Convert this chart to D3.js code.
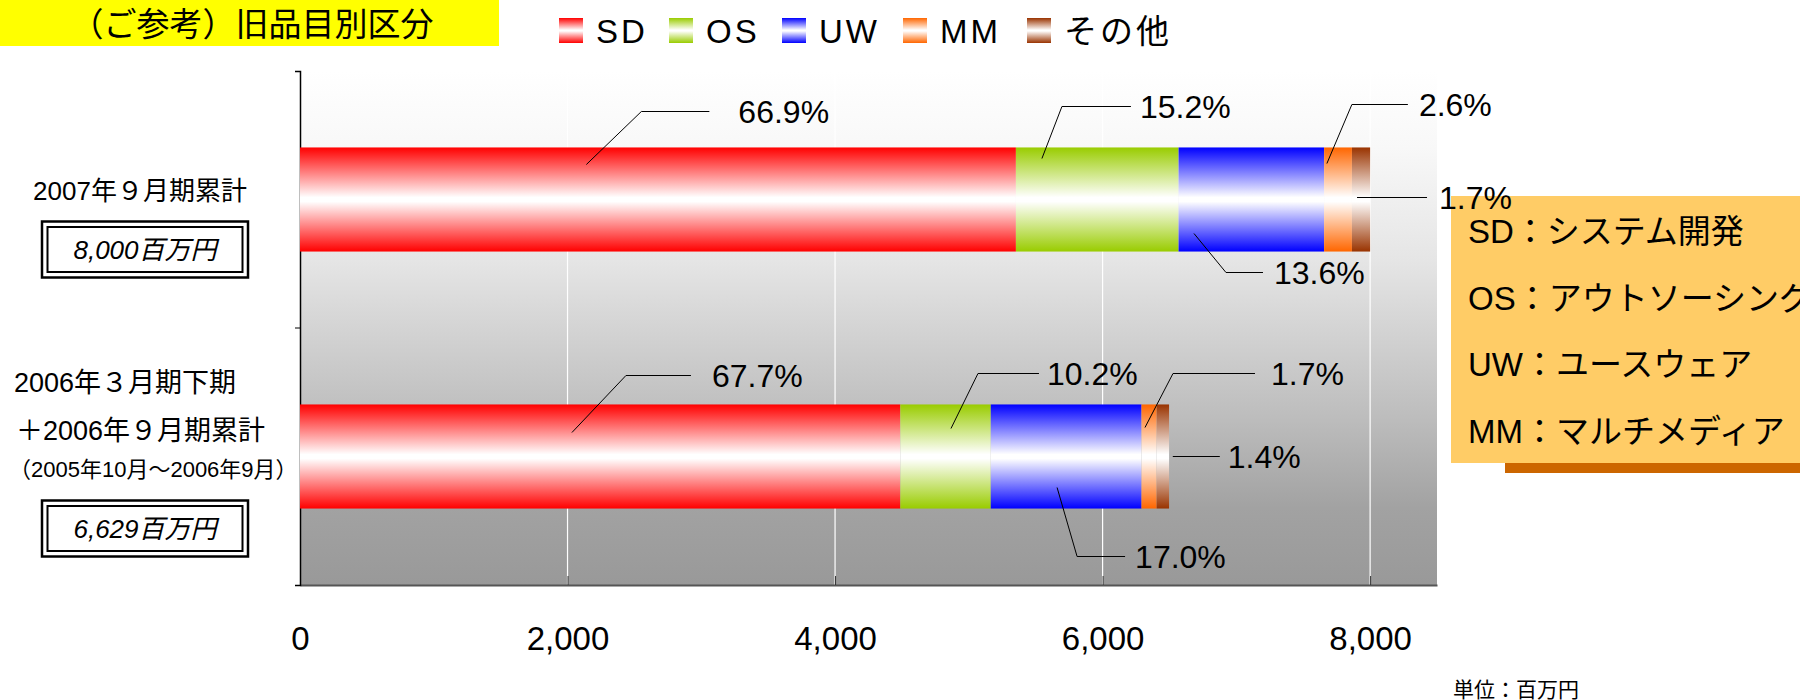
<!DOCTYPE html>
<html><head><meta charset="utf-8">
<script src="https://cdn.jsdelivr.net/npm/d3@7"></script>
<style>body{margin:0;background:#fff;} svg{display:block;}</style>
</head><body><svg id="c" width="1800" height="700"></svg>
<script>
// ---------- data ----------
const periods = ["2007年9月期累計", "2006年3月期下期＋2006年9月期累計"];
const seriesNames = ["SD", "OS", "UW", "MM", "その他"];
const sdValues = [5352, 4488];
const osValues = [1216, 676];
const uwValues = [1088, 1127];
const mmValues = [208, 113];
const otherValues = [136, 93];
const sdPct = ["66.9%", "67.7%"];
const osPct = ["15.2%", "10.2%"];
const uwPct = ["13.6%", "17.0%"];
const mmPct = ["2.6%", "1.7%"];
const otherPct = ["1.7%", "1.4%"];
const totalLabels = ["8,000百万円", "6,629百万円"];
const categoryLines = [
  ["2007年９月期累計"],
  ["2006年３月期下期", "＋2006年９月期累計", "（2005年10月～2006年9月）"]
];
const xTicks = [0, 2000, 4000, 6000, 8000];
const glossary = ["SD：システム開発", "OS：アウトソーシング", "UW：ユースウェア", "MM：マルチメディア"];
const titleText = "（ご参考）旧品目別区分";
const unitText = "単位：百万円";

// ---------- layout / style ----------
const colors = ["#FF0000", "#99CC00", "#0000FF", "#FF6600", "#993300"];
const LAT = "'Liberation Sans', 'Noto Sans CJK JP', sans-serif";
const plot = {left: 300, right: 1437, top: 71, bottom: 585};

const rows = periods.map((p, i) => ({
  period: p, SD: sdValues[i], OS: osValues[i], UW: uwValues[i], MM: mmValues[i], "その他": otherValues[i]
}));
const pctBySeries = [sdPct, osPct, uwPct, mmPct, otherPct];

const svg = d3.select("#c");
const defs = svg.append("defs");

// bar gradients
colors.forEach((c, i) => {
  const g = defs.append("linearGradient").attr("id", "g" + i)
    .attr("x1", 0).attr("y1", 0).attr("x2", 0).attr("y2", 1);
  [[0, c], [0.48, "#ffffff"], [0.52, "#ffffff"], [1, c]].forEach(s =>
    g.append("stop").attr("offset", s[0]).attr("stop-color", s[1]));
});
// plot background gradient
const bg = defs.append("linearGradient").attr("id", "bg")
  .attr("x1", 0).attr("y1", 0).attr("x2", 0).attr("y2", 1);
[[0, "#ffffff"], [0.15, "#f8f8f8"], [0.37, "#e5e5e5"], [0.68, "#bcbcbc"], [0.85, "#a2a2a2"], [1, "#999999"]]
  .forEach(s => bg.append("stop").attr("offset", s[0]).attr("stop-color", s[1]));

const x = d3.scaleLinear().domain([0, 8500]).range([plot.left, plot.right]);
const y = d3.scaleBand().domain(periods).range([plot.top, plot.bottom])
  .paddingInner(0.595).paddingOuter(0.2975);

// title
svg.append("rect").attr("x", 0).attr("y", 0).attr("width", 499).attr("height", 46).attr("fill", "#FFFF00");
svg.append("text").attr("x", 252).attr("y", 24).attr("dy", "0.36em").attr("text-anchor", "middle")
  .attr("font-family", LAT).attr("font-size", 33).text(titleText);

// legend
const legX = [559, 669, 782, 903, 1027];
const leg = svg.append("g");
seriesNames.forEach((s, i) => {
  leg.append("rect").attr("x", legX[i]).attr("y", 18).attr("width", 24).attr("height", 25)
    .attr("fill", `url(#g${i})`);
  leg.append("text").attr("x", legX[i] + 37).attr("y", 31).attr("dy", "0.36em")
    .attr("font-family", LAT).attr("font-size", 33).attr("letter-spacing", 3).text(s);
});

// plot area
svg.append("rect").attr("x", plot.left).attr("y", plot.top)
  .attr("width", plot.right - plot.left).attr("height", plot.bottom - plot.top).attr("fill", "url(#bg)");

// gridlines
svg.append("g").selectAll("line").data(xTicks.filter(d => d > 0)).join("line")
  .attr("x1", d => x(d)).attr("x2", d => x(d)).attr("y1", plot.top).attr("y2", plot.bottom)
  .attr("stroke", "#ffffff").attr("stroke-width", 1.2);

// x axis
const xAxis = svg.append("g").attr("transform", `translate(0,${plot.bottom})`)
  .call(d3.axisBottom(x).tickValues(xTicks).tickFormat(d3.format(",")).tickSizeInner(-9).tickSizeOuter(0).tickPadding(42));
xAxis.select(".domain").attr("stroke", "#555").attr("stroke-width", 2);
xAxis.selectAll(".tick line").attr("stroke", "#333");
xAxis.selectAll("text").attr("font-family", LAT).attr("font-size", 33).attr("fill", "#000");

// y axis
const yAxis = svg.append("g").attr("transform", `translate(${plot.left},0)`)
  .call(d3.axisLeft(y).tickValues([]).tickSizeOuter(5));
yAxis.select(".domain").attr("stroke", "#000").attr("stroke-width", 1.5);
svg.append("line").attr("x1", plot.left - 5).attr("x2", plot.left)
  .attr("y1", (plot.top + plot.bottom) / 2).attr("y2", (plot.top + plot.bottom) / 2).attr("stroke", "#000");

// bars
const stack = d3.stack().keys(seriesNames)(rows);
stack.forEach((layer, si) => {
  svg.append("g").selectAll("rect").data(layer).join("rect")
    .attr("x", d => x(d[0])).attr("width", d => x(d[1]) - x(d[0]))
    .attr("y", d => y(d.data.period)).attr("height", y.bandwidth())
    .attr("fill", `url(#g${si})`);
});

// glossary box
const gl = svg.append("g");
gl.append("rect").attr("x", 1505).attr("y", 463).attr("width", 295).attr("height", 10).attr("fill", "#CC6600");
gl.append("rect").attr("x", 1451).attr("y", 196).attr("width", 349).attr("height", 267).attr("fill", "#FFCC66");
glossary.forEach((t, i) => {
  gl.append("text").attr("x", 1468).attr("y", 243 + i * 66.5)
    .attr("font-family", LAT).attr("font-size", 33).text(t);
});

// leader lines & labels: [anchor fraction in segment, anchor dy from band centre, elbow dx, elbow dy, line length, gap]
const leaders = [
  [[0.40, -35, 55, -53, 68, 29], [0.453, -24, 54, -57, 65, 21]],
  [[0.16, -41, 20, -52, 69, 9], [0.56, -28, 27, -55, 61, 8]],
  [[0.106, 34, 32, 39, 37, 11], [0.44, 31, 20, 69, 48, 10]],
  [[0.10, -36, 25, -59, 56, 11], [0.23, -29, 28, -54, 82, 16]],
  [[0.28, -2, 0, 0, 70, 12], [1.3, 0, 0, 0, 47, 8]]
];
const ann = svg.append("g");
stack.forEach((layer, si) => {
  layer.forEach((d, pi) => {
    const [f, ay, ex, ey, len, gap] = leaders[si][pi];
    const cy = y(d.data.period) + y.bandwidth() / 2;
    const ax = x(d[0] + f * (d[1] - d[0]));
    const ay2 = cy + ay;
    const exx = ax + ex, eyy = ay2 + ey;
    ann.append("path").attr("d", `M${ax},${ay2}L${exx},${eyy}L${exx + len},${eyy}`)
      .attr("fill", "none").attr("stroke", "#000").attr("stroke-width", 1);
    ann.append("text").attr("x", exx + len + gap).attr("y", eyy).attr("dy", "0.36em")
      .attr("font-family", LAT).attr("font-size", 32).text(pctBySeries[si][pi]);
  });
});

// category labels and total boxes
const catOffsets = [[-9], [-74, -26, 13]];
const catSizes = [[26], [27, 27, 22]];
const catX = [[140], [14, 16, 9]];
const catAnchor = [["middle"], ["start", "start", "start"]];
const boxOffsets = [50, 72];
periods.forEach((p, i) => {
  const cy = y(p) + y.bandwidth() / 2;
  categoryLines[i].forEach((t, j) => {
    svg.append("text").attr("x", catX[i][j]).attr("y", cy + catOffsets[i][j])
      .attr("dy", "0.35em").attr("text-anchor", catAnchor[i][j])
      .attr("font-family", LAT).attr("font-size", catSizes[i][j]).text(t);
  });
  const by = cy + boxOffsets[i];
  svg.append("rect").attr("x", 42).attr("y", by - 28).attr("width", 206).attr("height", 56)
    .attr("fill", "#fff").attr("stroke", "#000").attr("stroke-width", 2.5);
  svg.append("rect").attr("x", 47.5).attr("y", by - 22.5).attr("width", 195).attr("height", 45)
    .attr("fill", "none").attr("stroke", "#000").attr("stroke-width", 2);
  svg.append("text").attr("x", 145).attr("y", by).attr("dy", "0.36em").attr("text-anchor", "middle")
    .attr("font-family", LAT).attr("font-style", "italic").attr("font-size", 26).text(totalLabels[i]);
});

// unit
svg.append("text").attr("x", 1453).attr("y", 690).attr("dy", "0.35em")
  .attr("font-family", LAT).attr("font-size", 21).text(unitText);
</script></body></html>
